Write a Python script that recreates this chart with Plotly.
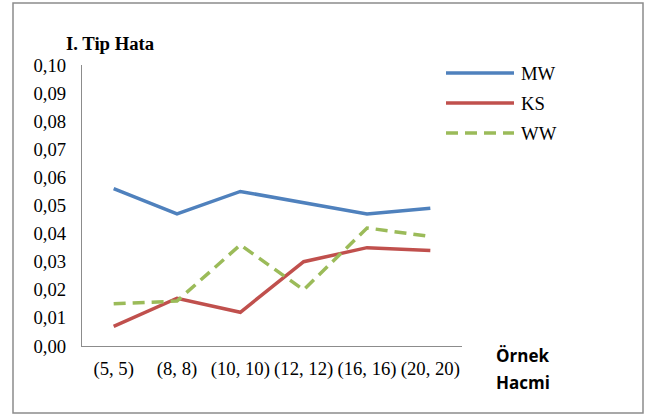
import plotly.graph_objects as go

categories = ["(5, 5)", "(8, 8)", "(10, 10)", "(12, 12)", "(16, 16)", "(20, 20)"]
mw = [0.056, 0.047, 0.055, 0.051, 0.047, 0.049]
ks = [0.007, 0.017, 0.012, 0.030, 0.035, 0.034]
ww = [0.015, 0.016, 0.036, 0.020, 0.042, 0.039]
y_ticks = [0.00, 0.01, 0.02, 0.03, 0.04, 0.05, 0.06, 0.07, 0.08, 0.09, 0.10]
y_tick_labels = ["0,00", "0,01", "0,02", "0,03", "0,04", "0,05", "0,06", "0,07", "0,08", "0,09", "0,10"]

series = [
    ("MW", mw, "#4F81BD", "solid"),
    ("KS", ks, "#C0504D", "solid"),
    ("WW", ww, "#9BBB59", "12px,7px"),
]

W, H = 646, 416
L, R, T, B = 82, 184, 65, 70
pw, ph = W - L - R, H - T - B
SERIF = "Liberation Serif"
FS = 18.7

def px(x):
    return (x - L) / pw

def py(y):
    return (H - B - y) / ph

fig = go.Figure()
for name, vals, color, dash in series:
    fig.add_trace(go.Scatter(x=categories, y=vals, mode="lines", name=name,
                             line=dict(color=color, width=3.5, dash=dash),
                             showlegend=False))

shapes = [
    dict(type="rect", xref="paper", yref="paper", x0=px(13), x1=px(643), y0=py(413), y1=py(3),
         line=dict(color="#8c8c8c", width=1.5), fillcolor="rgba(0,0,0,0)", layer="below"),
]
annotations = []
leg_y = [73, 103, 133]
for (name, vals, color, dash), ly in zip(series, leg_y):
    shapes.append(dict(type="line", xref="paper", yref="paper", x0=px(446), x1=px(514),
                       y0=py(ly), y1=py(ly), line=dict(color=color, width=3.5, dash=dash)))
    annotations.append(dict(text=name, xref="paper", yref="paper", x=px(519), y=py(ly),
                            xanchor="left", yanchor="middle", showarrow=False,
                            font=dict(family=SERIF, size=FS, color="#000")))

annotations.append(dict(text="<b>I. Tip Hata</b>", xref="paper", yref="paper", x=px(64), y=py(43),
                        xanchor="left", yanchor="middle", showarrow=False,
                        font=dict(family=SERIF, size=FS, color="#000")))
annotations.append(dict(text="<b>Örnek</b>", xref="paper", yref="paper", x=px(494), y=py(355),
                        xanchor="left", yanchor="middle", showarrow=False,
                        font=dict(family="Open Sans", size=17, color="#000")))
annotations.append(dict(text="<b>Hacmi</b>", xref="paper", yref="paper", x=px(494), y=py(382),
                        xanchor="left", yanchor="middle", showarrow=False,
                        font=dict(family="Open Sans", size=17, color="#000")))

fig.update_layout(
    width=W, height=H,
    margin=dict(l=L, r=R, t=T, b=B, pad=0),
    paper_bgcolor="white", plot_bgcolor="white",
    shapes=shapes, annotations=annotations,
    xaxis=dict(type="category", showgrid=False, showline=True, linecolor="#8c8c8c", linewidth=1.2,
               ticks="outside", ticklen=5, tickcolor="rgba(0,0,0,0)",
               tickfont=dict(family=SERIF, size=FS, color="#000"),
               range=[-0.5, 5.5], zeroline=False),
    yaxis=dict(range=[0, 0.10], tickvals=y_ticks, ticktext=y_tick_labels, showgrid=False,
               showline=True, linecolor="#8c8c8c", linewidth=1.2,
               ticks="outside", ticklen=11, tickcolor="rgba(0,0,0,0)",
               tickfont=dict(family=SERIF, size=FS, color="#000"), zeroline=False),
)

fig.write_html("out.html", config={"displayModeBar": False},
               post_script="document.body.style.margin='0';document.body.style.overflow='hidden';")
